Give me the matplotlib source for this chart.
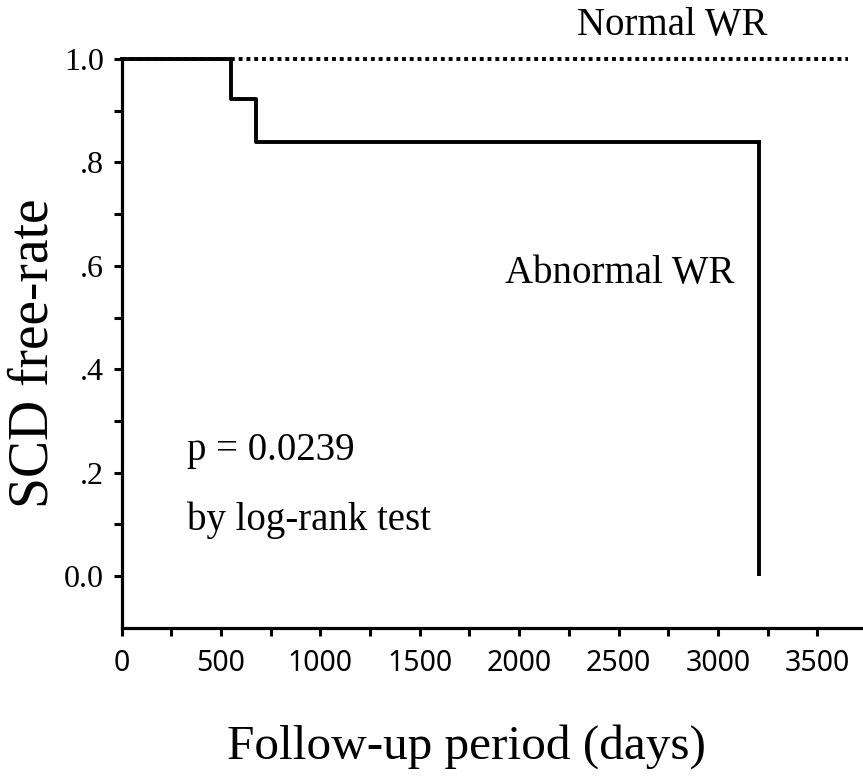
import numpy as np
import matplotlib
matplotlib.use("Agg")
import matplotlib.pyplot as plt
from matplotlib.ticker import MultipleLocator, FixedLocator

plt.rcParams['font.family'] = ['Liberation Serif', 'DejaVu Serif']

# Kaplan-Meier step data (days, survival)
abn_days = [0, 550, 676, 3207]
abn_surv = [1.0, 0.923, 0.839, 0.0]
normal_days = [0, 3655]
normal_surv = [1.0, 1.0]

y_ticks = [0.0, 0.2, 0.4, 0.6, 0.8, 1.0]
y_labels = ["0.0", ".2", ".4", ".6", ".8", "1.0"]
x_ticks = [0, 500, 1000, 1500, 2000, 2500, 3000, 3500]

fig = plt.figure(figsize=(8.63, 7.76), dpi=100)
ax = fig.add_axes([0.141, 0.191, 0.859, 0.733])

# normal group: dotted line
ax.plot(normal_days, normal_surv, color="black", linestyle=(0, (1, 1)),
        linewidth=2.8, clip_on=False, zorder=2)
# abnormal group: solid step line, drops to 0 at the end
ax.step(abn_days[:-1] + [abn_days[-1]], abn_surv[:-2] + [abn_surv[-2], abn_surv[-2]],
        where="post", color="black", linewidth=2.8, clip_on=False, zorder=3)
ax.plot([abn_days[-1], abn_days[-1]], [abn_surv[-2], abn_surv[-1]],
        color="black", linewidth=2.8, solid_capstyle="butt", zorder=3)

ax.set_xlim(0, 3730)
ax.set_ylim(-0.1, 1.0)

ax.spines["top"].set_visible(False)
ax.spines["right"].set_visible(False)
ax.spines["left"].set_linewidth(2.3)
ax.spines["bottom"].set_linewidth(2.3)

ax.xaxis.set_major_locator(FixedLocator(x_ticks))
ax.xaxis.set_minor_locator(MultipleLocator(250))
ax.set_yticks(y_ticks)
ax.set_yticklabels(y_labels)
ax.yaxis.set_minor_locator(FixedLocator([0.1, 0.3, 0.5, 0.7, 0.9]))

ax.tick_params(axis="both", which="both", direction="out", length=6, width=2.2)
ax.tick_params(axis="x", which="major", labelsize=20.5, pad=9)
ax.tick_params(axis="y", which="major", labelsize=23, pad=7)
# x tick labels are sans-serif in the original
for lab in ax.get_xticklabels():
    lab.set_family(["Noto Sans", "DejaVu Sans"])

fig.text(466 / 863, 1 - 747 / 776, "Follow-up period (days)", fontsize=35.5,
         ha="center", va="center")
fig.text(34 / 863, 1 - 353 / 776, "SCD free-rate", fontsize=40,
         ha="center", va="center", rotation=90)

ax.text(2770, 1.065, "Normal WR", fontsize=28, ha="center", va="center")
ax.text(1929, 0.585, "Abnormal WR", fontsize=28, ha="left", va="center")
ax.text(329, 0.243, "p = 0.0239", fontsize=28, ha="left", va="center")
ax.text(329, 0.107, "by log-rank test", fontsize=28, ha="left", va="center")

fig.savefig("out.png", dpi=100)
